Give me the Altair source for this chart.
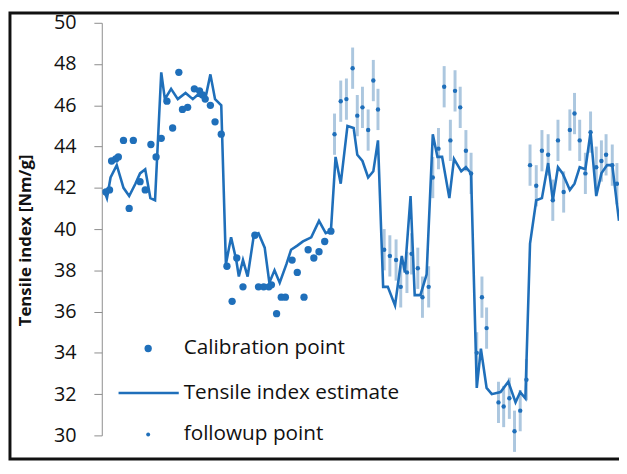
import altair as alt
import pandas as pd

# Tensile index estimate (continuous line)
line_x = [0.4, 1.0, 1.7, 2.9, 4.2, 5.3, 6.5, 7.4, 8.4, 9.4, 10.3, 11.5, 12.2, 13.4, 14.7,
          16.2, 17.6, 18.5, 19.5, 20.0, 21.0, 21.9, 23.1, 24.0, 25.0, 26.0, 26.5, 27.3, 28.2,
          29.4, 30.3, 31.5, 32.4, 33.4, 34.4, 35.7, 36.6, 37.8, 38.9, 40.5, 42.0, 43.3, 44.3,
          45.2, 46.2, 47.5, 48.7, 49.4, 50.4, 51.5, 52.5, 53.4, 54.4, 55.3, 56.7, 58.0, 58.6,
          59.7, 60.5, 61.6, 62.8, 64.0, 64.9, 65.8, 67.2, 68.1, 69.5, 70.4, 71.4, 72.5, 73.3,
          74.4, 75.4, 77.1, 78.6, 80.0, 80.9, 81.9, 82.8, 84.0, 85.1, 86.3, 87.2, 88.2, 89.1,
          90.5, 91.4, 92.4, 93.5, 94.5, 95.6, 96.6, 97.7, 98.7, 100.0]
line_y = [41.9, 41.5, 42.5, 43.1, 42.0, 41.6, 42.2, 42.7, 42.9, 41.5, 41.4, 47.6, 46.3, 46.8, 46.3,
          46.6, 46.3, 46.5, 46.4, 46.3, 47.5, 46.3, 46.0, 38.3, 39.6, 38.5, 37.7, 38.5, 37.7,
          39.7, 39.8, 39.1, 37.4, 38.0, 37.4, 38.3, 39.0, 39.2, 39.4, 39.6, 40.4, 39.8, 39.9,
          43.5, 42.2, 45.0, 44.9, 43.6, 43.3, 42.5, 42.8, 44.3, 37.2, 37.2, 36.3, 38.7, 37.9,
          41.6, 36.8, 36.8, 37.8, 44.6, 43.5, 43.5, 41.5, 43.4, 42.8, 43.0, 42.7, 32.3, 34.2,
          32.3, 32.0, 32.1, 32.6, 31.6, 32.1, 31.8, 39.3, 41.4, 41.5, 43.2, 41.4, 43.0, 42.7,
          41.9, 42.2, 43.0, 42.9, 44.7, 41.6, 42.7, 43.1, 43.1, 40.4]

# Calibration points
cal_x = [0.8, 1.5, 1.9, 2.7, 3.2, 4.2, 5.3, 6.1, 7.4, 8.4, 9.5, 10.5, 11.5, 12.6, 13.7, 14.9,
         15.6, 16.6, 17.9, 18.9, 19.5, 20.0, 21.0, 21.9, 23.1,
         24.2, 25.2, 26.1, 27.3, 29.6, 30.3, 31.3, 32.3, 32.8, 33.8, 34.7, 35.5, 36.8, 37.8,
         39.1, 39.9, 41.0, 42.0, 43.1, 44.3]
cal_y = [41.8, 41.9, 43.3, 43.4, 43.5, 44.3, 41.0, 44.3, 42.3, 41.9, 44.1, 43.5, 44.4, 46.2, 44.9, 47.6,
         45.8, 45.9, 46.8, 46.7, 46.5, 46.3, 46.0, 45.2, 44.6,
         38.2, 36.5, 38.6, 37.2, 39.7, 37.2, 37.2, 37.2, 37.3, 35.9, 36.7, 36.7, 38.5, 37.9,
         36.7, 39.0, 38.6, 38.9, 39.4, 39.9]

# Follow-up points (with uncertainty)
fu_x = [45.0, 46.2, 47.3, 48.5, 49.4, 50.4, 51.5, 52.5, 53.4,
        54.6, 55.7, 56.9, 57.8, 59.0, 59.9, 61.1, 62.0, 63.2,
        64.0, 65.1, 66.2, 67.4, 68.3, 69.3, 70.4, 71.4,
        72.5, 73.5, 74.4, 76.7, 77.7, 78.8, 79.8, 80.9, 82.1,
        82.8, 84.0, 85.1, 86.3, 87.2, 88.2, 89.3, 90.5, 91.4, 92.4, 93.5, 94.5, 95.6, 96.6,
        97.5, 98.7, 99.6]
fu_y = [44.6, 46.2, 46.3, 47.8, 45.5, 45.9, 44.8, 47.2, 45.8,
        39.0, 38.7, 38.5, 37.2, 37.9, 38.8, 38.1, 36.7, 37.2,
        42.5, 43.9, 46.9, 44.3, 46.7, 45.9, 43.8, 42.7,
        34.0, 36.7, 35.2, 31.6, 31.4, 31.8, 30.2, 31.2, 32.7,
        43.1, 42.1, 43.8, 43.6, 41.4, 44.3, 41.8, 44.8, 45.6, 44.3, 42.7, 44.7, 43.0, 43.3,
        43.6, 43.1, 42.2]
fu_err = 1.0

y_ticks = [30, 32, 34, 36, 38, 40, 42, 44, 46, 48, 50]

BLUE = "#1f6fba"
ERR = "#a3c1db"
FONT = "Open Sans"

line_df = pd.DataFrame({"t": line_x, "v": line_y})
cal_df = pd.DataFrame({"t": cal_x, "v": cal_y})
fu_df = pd.DataFrame({"t": fu_x, "v": fu_y})
fu_df["lo"] = fu_df["v"] - fu_err
fu_df["hi"] = fu_df["v"] + fu_err
one = pd.DataFrame({"k": [0]})

xs = alt.Scale(domain=[0, 100], nice=False, zero=False)
ys = alt.Scale(domain=[30, 50], nice=False, zero=False)
yaxis = alt.Axis(values=y_ticks, title="Tensile index [Nm/g]", grid=False,
                 domainColor="#8c8c8c", tickColor="#8c8c8c", tickSize=8, domainWidth=1,
                 labelFont=FONT, labelFontSize=20, labelColor="#111111", labelPadding=18,
                 titleFont=FONT, titleFontSize=17, titleFontWeight="bold", titleColor="#111111",
                 titleX=-77, titleY=220, titleAngle=270, titleAlign="center", titleBaseline="middle")

X = alt.X("t:Q", scale=xs, axis=None)

err = alt.Chart(fu_df).mark_rule(color=ERR, strokeWidth=3, opacity=0.9).encode(
    x=X, y=alt.Y("lo:Q", scale=ys, axis=yaxis), y2="hi:Q")
line = alt.Chart(line_df).mark_line(color=BLUE, strokeWidth=2.6).encode(
    x=X, y=alt.Y("v:Q", scale=ys, axis=yaxis))
cal = alt.Chart(cal_df).mark_circle(color=BLUE, size=55, opacity=1).encode(
    x=X, y=alt.Y("v:Q", scale=ys, axis=yaxis))
fu = alt.Chart(fu_df).mark_circle(color=BLUE, size=20, opacity=1).encode(
    x=X, y=alt.Y("v:Q", scale=ys, axis=yaxis))

# manual legend
LEG = 21
leg_cal = alt.Chart(one).mark_circle(color=BLUE, size=55, opacity=1).encode(
    x=alt.value(47), y=alt.value(330))
leg_line = alt.Chart(one).mark_rule(color=BLUE, strokeWidth=2.6).encode(
    x=alt.value(17), x2=alt.value(78), y=alt.value(375))
leg_fu = alt.Chart(one).mark_circle(color=BLUE, size=16, opacity=1).encode(
    x=alt.value(47), y=alt.value(417))
t1 = alt.Chart(one).mark_text(text="Calibration point", font=FONT, fontSize=LEG, align="left",
                              baseline="middle", color="#111111").encode(x=alt.value(83), y=alt.value(330))
t2 = alt.Chart(one).mark_text(text="Tensile index estimate", font=FONT, fontSize=LEG, align="left",
                              baseline="middle", color="#111111").encode(x=alt.value(83), y=alt.value(375))
t3 = alt.Chart(one).mark_text(text="followup point", font=FONT, fontSize=LEG, align="left",
                              baseline="middle", color="#111111").encode(x=alt.value(83), y=alt.value(417))

frame = alt.Chart(one).mark_rect(fill="transparent", stroke="#111111", strokeWidth=3).encode(
    x=alt.value(-93), x2=alt.value(560), y=alt.value(-10), y2=alt.value(442))

chart = alt.layer(frame, err, line, cal, fu, leg_cal, leg_line, leg_fu, t1, t2, t3).properties(
    width=524, height=418,
    autosize=alt.AutoSizeParams(type="none"),
    padding={"left": 95, "top": 12, "right": 0, "bottom": 26},
).configure_view(stroke=None)

chart.save("out.html", embed_options={"renderer": "svg", "actions": False})
